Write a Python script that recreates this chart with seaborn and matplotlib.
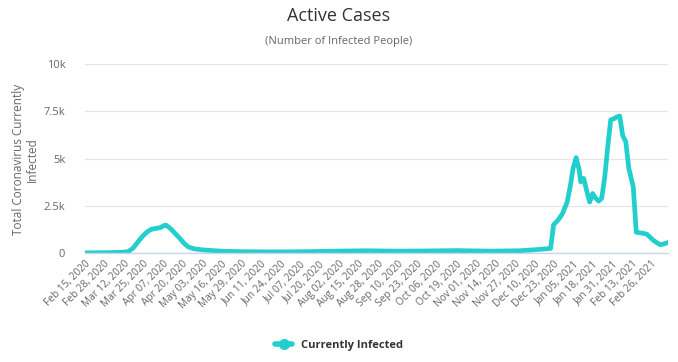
import pandas as pd
import matplotlib.pyplot as plt
import matplotlib.dates as mdates
from matplotlib.lines import Line2D
from matplotlib.ticker import FuncFormatter
import seaborn as sns

dates = [
    "2020-02-15", "2020-02-29", "2020-03-11", "2020-03-15", "2020-03-18", "2020-03-21",
    "2020-03-24", "2020-03-27", "2020-03-30", "2020-04-02", "2020-04-05", "2020-04-08",
    "2020-04-09", "2020-04-12", "2020-04-15", "2020-04-18", "2020-04-21", "2020-04-24",
    "2020-04-28", "2020-05-03", "2020-05-10", "2020-05-18", "2020-06-01", "2020-06-20",
    "2020-07-10", "2020-07-30", "2020-08-20", "2020-09-10", "2020-09-30", "2020-10-20",
    "2020-11-10", "2020-11-30", "2020-12-10", "2020-12-19", "2020-12-21", "2020-12-23",
    "2020-12-26", "2020-12-29", "2021-01-01", "2021-01-03", "2021-01-05", "2021-01-07",
    "2021-01-09", "2021-01-10", "2021-01-11", "2021-01-12", "2021-01-14", "2021-01-16",
    "2021-01-18", "2021-01-20", "2021-01-22", "2021-01-24", "2021-01-26", "2021-01-28",
    "2021-01-30", "2021-02-01", "2021-02-03", "2021-02-05", "2021-02-07", "2021-02-09",
    "2021-02-11", "2021-02-14", "2021-02-16", "2021-02-20", "2021-02-23", "2021-02-25",
    "2021-02-27", "2021-03-01", "2021-03-04", "2021-03-06", "2021-03-09",
]
active = [
    10, 20, 40, 80, 250, 550,
    850, 1080, 1250, 1300, 1340, 1460,
    1480, 1300, 1050, 800, 520, 320,
    220, 170, 130, 90, 70, 60,
    70, 100, 120, 100, 110, 130,
    100, 120, 170, 230, 250, 1500,
    1750, 2100, 2700, 3500, 4500, 5050,
    4400, 3770, 3900, 3950, 3300, 2700,
    3150, 2900, 2750, 2900, 4000, 5600,
    7050, 7100, 7200, 7250, 6200, 5900,
    4500, 3500, 1100, 1050, 1000, 850,
    700, 580, 440, 470, 560,
]

df = pd.DataFrame({"date": pd.to_datetime(dates), "active": active})

line_color = "#22cfcd"
grey = "#666666"

sns.set_theme(style="white")
plt.rcParams["font.family"] = ["Open Sans", "DejaVu Sans"]

fig, ax = plt.subplots(figsize=(6.78, 3.62), dpi=100)
fig.subplots_adjust(left=0.125, right=0.985, bottom=0.301, top=0.823)

sns.lineplot(data=df, x="date", y="active", ax=ax, color=line_color,
             linewidth=3.4, solid_joinstyle="round", solid_capstyle="round")

ax.set_ylim(0, 10000)
ax.set_yticks([0, 2500, 5000, 7500, 10000])
ax.yaxis.set_major_formatter(FuncFormatter(
    lambda v, p: "0" if v == 0 else (f"{v/1000:g}k")))
ax.grid(axis="y", color="#e6e6e6", linewidth=0.9)
ax.set_axisbelow(True)

start = pd.Timestamp("2020-02-15")
ax.set_xlim(start, pd.Timestamp("2021-03-09"))
ticks = pd.date_range(start, "2021-02-26", freq="13D")
ax.set_xticks(ticks)
ax.xaxis.set_major_formatter(mdates.DateFormatter("%b %d, %Y"))
plt.setp(ax.get_xticklabels(), rotation=45, ha="right", rotation_mode="anchor")
ax.tick_params(axis="x", labelsize=7.3, colors=grey, length=0, pad=4)
ax.tick_params(axis="y", labelsize=8, colors=grey, length=0, pad=14)

for side in ["top", "right", "left"]:
    ax.spines[side].set_visible(False)
ax.spines["bottom"].set_color("#ccd6eb")
ax.spines["bottom"].set_linewidth(1)

ax.set_xlabel("")
ax.set_ylabel("")
fig.text(0.037, 0.56, "Total Coronavirus Currently\nInfected", rotation=90,
         ha="center", va="center", multialignment="center", fontsize=8.5,
         color=grey, linespacing=1.1)

fig.text(0.5, 0.957, "Active Cases", ha="center", va="center", fontsize=13, color="#333333")
fig.text(0.5, 0.885, "(Number of Infected People)", ha="center", va="center",
         fontsize=8, color=grey)

handle = Line2D([0], [0], color=line_color, linewidth=4, marker="o", markersize=7)
fig.legend([handle], ["Currently Infected"], loc="center", bbox_to_anchor=(0.5, 0.045),
           frameon=False, handlelength=1.5, prop={"weight": "bold", "size": 8},
           labelcolor="#333333")

fig.savefig("out.png", dpi=100)
